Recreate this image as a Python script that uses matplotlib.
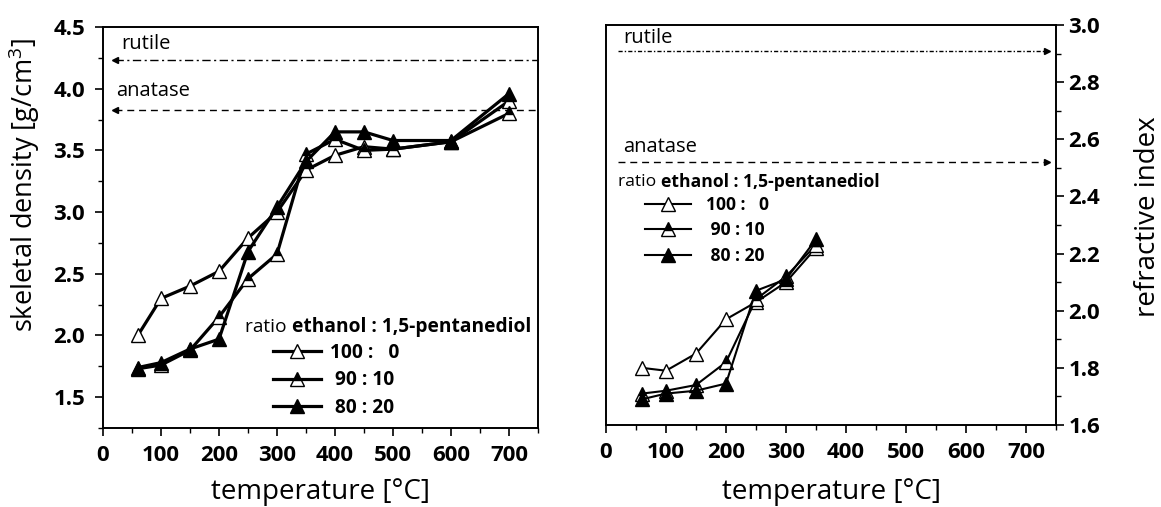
import matplotlib
matplotlib.use("Agg")
import matplotlib.pyplot as plt
from matplotlib.ticker import MultipleLocator

plt.rcParams['font.family'] = ['Open Sans', 'DejaVu Sans']
plt.rcParams['mathtext.fontset'] = 'custom'
plt.rcParams['mathtext.rm'] = 'Open Sans'

# temperatures [°C]
temp_density = [60, 100, 150, 200, 250, 300, 350, 400, 450, 500, 600, 700]
temp_index = [60, 100, 150, 200, 250, 300, 350]

# skeletal density [g/cm3] for ethanol : 1,5-pentanediol ratios
density_100_0 = [2.00, 2.30, 2.40, 2.52, 2.79, 3.00, 3.34, 3.46, 3.53, 3.51, 3.57, 3.90]
density_90_10 = [1.73, 1.76, 1.88, 2.15, 2.46, 2.66, 3.47, 3.59, 3.50, 3.51, 3.57, 3.80]
density_80_20 = [1.74, 1.78, 1.89, 1.97, 2.68, 3.04, 3.41, 3.65, 3.65, 3.58, 3.58, 3.96]

# refractive index
index_100_0 = [1.80, 1.79, 1.85, 1.97, 2.03, 2.10, 2.22]
index_90_10 = [1.71, 1.72, 1.74, 1.82, 2.04, 2.12, 2.23]
index_80_20 = [1.69, 1.71, 1.72, 1.745, 2.07, 2.11, 2.25]

# bulk reference values of the TiO2 phases
rutile_density, anatase_density = 4.23, 3.83
rutile_index, anatase_index = 2.91, 2.52

ratio_labels = ['100 :   0', ' 90 : 10', ' 80 : 20']

fig = plt.figure(figsize=(11.61, 5.07), dpi=100)
W, H = 1161, 507
ax1 = fig.add_axes([103 / W, 1 - 428 / H, 435 / W, 401 / H])
ax2 = fig.add_axes([606 / W, 1 - 425 / H, 450 / W, 400 / H])

styles = [
    dict(marker='^', mfc='white', mec='black'),
    dict(marker='^', mfc='black', mec='black', fillstyle='top', markerfacecoloralt='white'),
    dict(marker='^', mfc='black', mec='black'),
]


def draw(ax, x, series, lw, ms):
    handles = []
    for y, st in zip(series, styles):
        h, = ax.plot(x, y, color='black', lw=lw, ms=ms, mew=1.0, **st)
        handles.append(h)
    return handles


h1 = draw(ax1, temp_density, [density_100_0, density_90_10, density_80_20], 2.3, 10.5)
h2 = draw(ax2, temp_index, [index_100_0, index_90_10, index_80_20], 1.5, 10.5)

# phase reference lines with arrow heads
ax1.plot([20, 750], [rutile_density] * 2, color='black', lw=1.0, ls=(0, (6, 2.5, 1.5, 2.5)))
ax1.plot([20], [rutile_density], marker='<', color='black', ms=4)
ax1.plot([20, 750], [anatase_density] * 2, color='black', lw=1.0, ls=(0, (5, 3.5)))
ax1.plot([20], [anatase_density], marker='<', color='black', ms=4)
ax1.text(31, 4.36, 'rutile', fontsize=14.5, va='center', ha='left')
ax1.text(22, 3.985, 'anatase', fontsize=14.5, va='center', ha='left')

ax2.plot([20, 735], [rutile_index] * 2, color='black', lw=1.0, ls=(0, (3, 1.5, 1, 1.5)))
ax2.plot([735], [rutile_index], marker='>', color='black', ms=4)
ax2.plot([20, 735], [anatase_index] * 2, color='black', lw=1.0, ls=(0, (5, 3.5)))
ax2.plot([735], [anatase_index], marker='>', color='black', ms=4)
ax2.text(28, 2.955, 'rutile', fontsize=14.5, va='center', ha='left')
ax2.text(28, 2.572, 'anatase', fontsize=14.5, va='center', ha='left')

for ax in (ax1, ax2):
    ax.set_xlim(0, 750)
    ax.xaxis.set_major_locator(MultipleLocator(100))
    ax.xaxis.set_minor_locator(MultipleLocator(50))
    ax.set_xlabel('temperature [°C]', fontsize=20)
    ax.xaxis.label.set_va('center')
    for s in ax.spines.values():
        s.set_linewidth(1.4)
    ax.tick_params(which='major', length=6, width=1.2, labelsize=16, direction='out')
    ax.tick_params(which='minor', length=3.5, width=1.0, direction='out')
    ax.tick_params(axis='x', pad=6)

ax1.xaxis.set_label_coords(0.5, -0.160)
ax2.xaxis.set_label_coords(0.5, -0.1675)

ax1.set_ylim(1.25, 4.5)
ax1.yaxis.set_major_locator(MultipleLocator(0.5))
ax1.yaxis.set_minor_locator(MultipleLocator(0.25))
ax1.yaxis.set_major_formatter('{x:.1f}')
ax1.tick_params(top=False, right=False, which='both')
ax1.tick_params(axis='y', pad=7)
ax1.set_ylabel('skeletal density [g/cm$^3$]', fontsize=19.5)
ax1.yaxis.label.set_va('center')
ax1.yaxis.set_label_coords(-0.182, 0.606)

ax2.set_ylim(1.6, 3.0)
ax2.yaxis.set_major_locator(MultipleLocator(0.2))
ax2.yaxis.set_minor_locator(MultipleLocator(0.1))
ax2.yaxis.set_major_formatter('{x:.1f}')
ax2.yaxis.tick_right()
ax2.yaxis.set_label_position('right')
ax2.tick_params(left=False, top=False, which='both')
ax2.tick_params(axis='y', pad=3)
ax2.set_ylabel('refractive index', fontsize=20)
ax2.yaxis.label.set_va('center')
ax2.yaxis.set_label_coords(1.204, 0.52)

for ax in (ax1, ax2):
    for lab in ax.get_xticklabels() + ax.get_yticklabels():
        lab.set_fontweight('bold')


# legends with a mixed-weight title
def ratio_title(x, y, size):
    t = fig.text(x, y, 'ratio ', fontsize=size, va='center', ha='left')
    fig.canvas.draw()
    bb = t.get_window_extent()
    fig.text(bb.x1 / W, y, 'ethanol : 1,5-pentanediol', fontsize=size, fontweight='bold',
             va='center', ha='left')


ratio_title(245 / W, 1 - 327 / H, 13.8)
ax1.legend(h1, ratio_labels, loc='upper left', bbox_to_anchor=(273 / W, 1 - 343 / H),
           bbox_transform=fig.transFigure, frameon=False, prop=dict(size=13.8, weight='bold'),
           handlelength=2.5, handletextpad=0.45, labelspacing=0.38, borderpad=0, borderaxespad=0)

ratio_title(618 / W, 1 - 182 / H, 12.6)
ax2.legend(h2, ratio_labels, loc='upper left', bbox_to_anchor=(645 / W, 1 - 196 / H),
           bbox_transform=fig.transFigure, frameon=False, prop=dict(size=12.6, weight='bold'),
           handlelength=2.6, handletextpad=0.9, labelspacing=0.42, borderpad=0, borderaxespad=0)

fig.savefig('out.png', dpi=100)
